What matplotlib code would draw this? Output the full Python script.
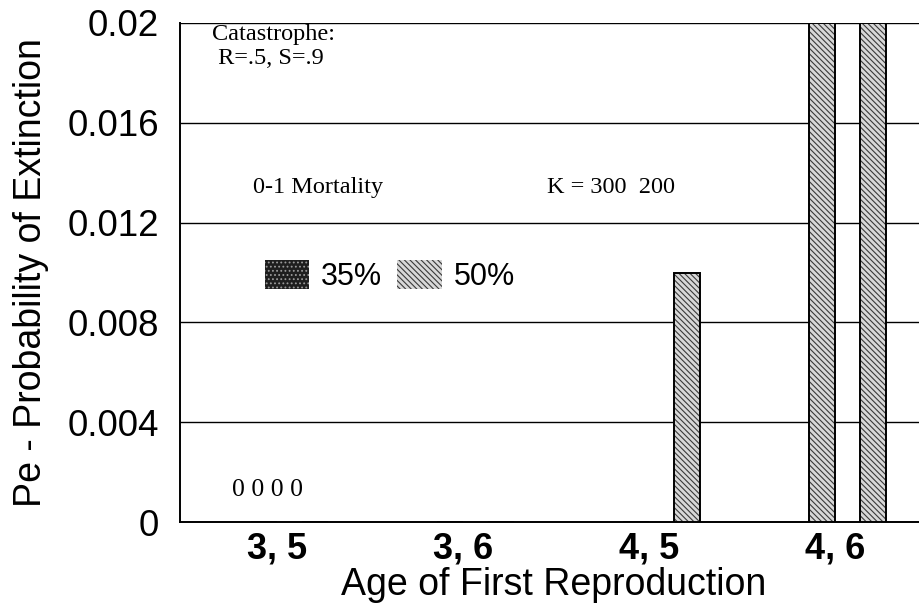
import matplotlib
matplotlib.use("Agg")
import matplotlib.pyplot as plt
import numpy as np

categories = ["3, 5", "3, 6", "4, 5", "4, 6"]
# series order within each group: 35% K=300, 50% K=300, 35% K=200, 50% K=200
k300_35 = [0.0, 0.0, 0.0, 0.0]
k300_50 = [0.0, 0.0, 0.0, 0.02]
k200_35 = [0.0, 0.0, 0.0, 0.0]
k200_50 = [0.0, 0.0, 0.010, 0.02]
yticks = [0, 0.004, 0.008, 0.012, 0.016, 0.02]
yticklabels = ["0", "0.004", "0.008", "0.012", "0.016", "0.02"]

plt.rcParams['font.family'] = ['Liberation Sans', 'DejaVu Sans']
plt.rcParams['hatch.linewidth'] = 0.8

fig = plt.figure(figsize=(9.2, 6.15), dpi=100)
ax = fig.add_axes([180/920, 93/615, 748/920, 499/615])

x = np.arange(len(categories))
w = 0.137
series = [(k300_35, '35%'), (k300_50, '50%'), (k200_35, '35%'), (k200_50, '50%')]
handles = {}
for i, (vals, lab) in enumerate(series):
    off = (i - 1.5) * w
    if lab == '35%':
        b = ax.bar(x + off, vals, w, color='#1e1e1e', edgecolor='#9a9a9a',
                   hatch='....', linewidth=0, zorder=3)
    else:
        b = ax.bar(x + off, vals, w, color='#d8d8d8', edgecolor='#3a3a3a',
                   hatch='\\\\\\\\\\\\', linewidth=0, zorder=3)
        ax.bar(x + off, vals, w, fill=False, edgecolor='black',
               linewidth=1.4, zorder=4)
    handles.setdefault(lab, b)

ax.set_xlim(-0.52, 3.5)
ax.set_ylim(0, 0.02)
ax.set_yticks(yticks)
ax.set_yticklabels(yticklabels, fontsize=26.5)
ax.set_xticks(x)
ax.set_xticklabels(categories, fontsize=26, fontweight='bold')
ax.tick_params(axis='y', length=0, pad=15)
ax.tick_params(axis='x', length=0, pad=7)
ax.yaxis.grid(True, color='black', linewidth=1.0, zorder=1)
ax.set_axisbelow(True)
for s in ['top', 'right']:
    ax.spines[s].set_visible(False)
ax.spines['left'].set_linewidth(1.4)
ax.spines['bottom'].set_linewidth(1.4)

ax.set_ylabel("Pe - Probability of Extinction", fontsize=27, labelpad=13)
ax.set_xlabel("Age of First Reproduction", fontsize=27, labelpad=0)

serif = ['Liberation Serif', 'DejaVu Serif']
ax.text(0.043, 0.997, "Catastrophe:\n R=.5, S=.9", transform=ax.transAxes,
        ha='left', va='top', fontsize=17.5, family=serif, linespacing=1.15)
ax.text(0.098, 0.671, "0-1 Mortality", transform=ax.transAxes,
        ha='left', va='center', fontsize=17.5, family=serif)
ax.text(0.49, 0.671, "K = 300  200", transform=ax.transAxes,
        ha='left', va='center', fontsize=17.5, family=serif)
ax.text(x[0] - 0.05, 0.0013, "0 0 0 0", ha='center', va='center',
        fontsize=18.5, family=serif)

leg = ax.legend([handles['35%'], handles['50%']], ['35%', '50%'],
                loc='center left', bbox_to_anchor=(0.113, 0.493), ncol=2,
                frameon=False, fontsize=22, handlelength=1.45, handleheight=1.1,
                handletextpad=0.4, columnspacing=0.5, borderpad=0,
                borderaxespad=0)

fig.savefig("out.png", dpi=100)
